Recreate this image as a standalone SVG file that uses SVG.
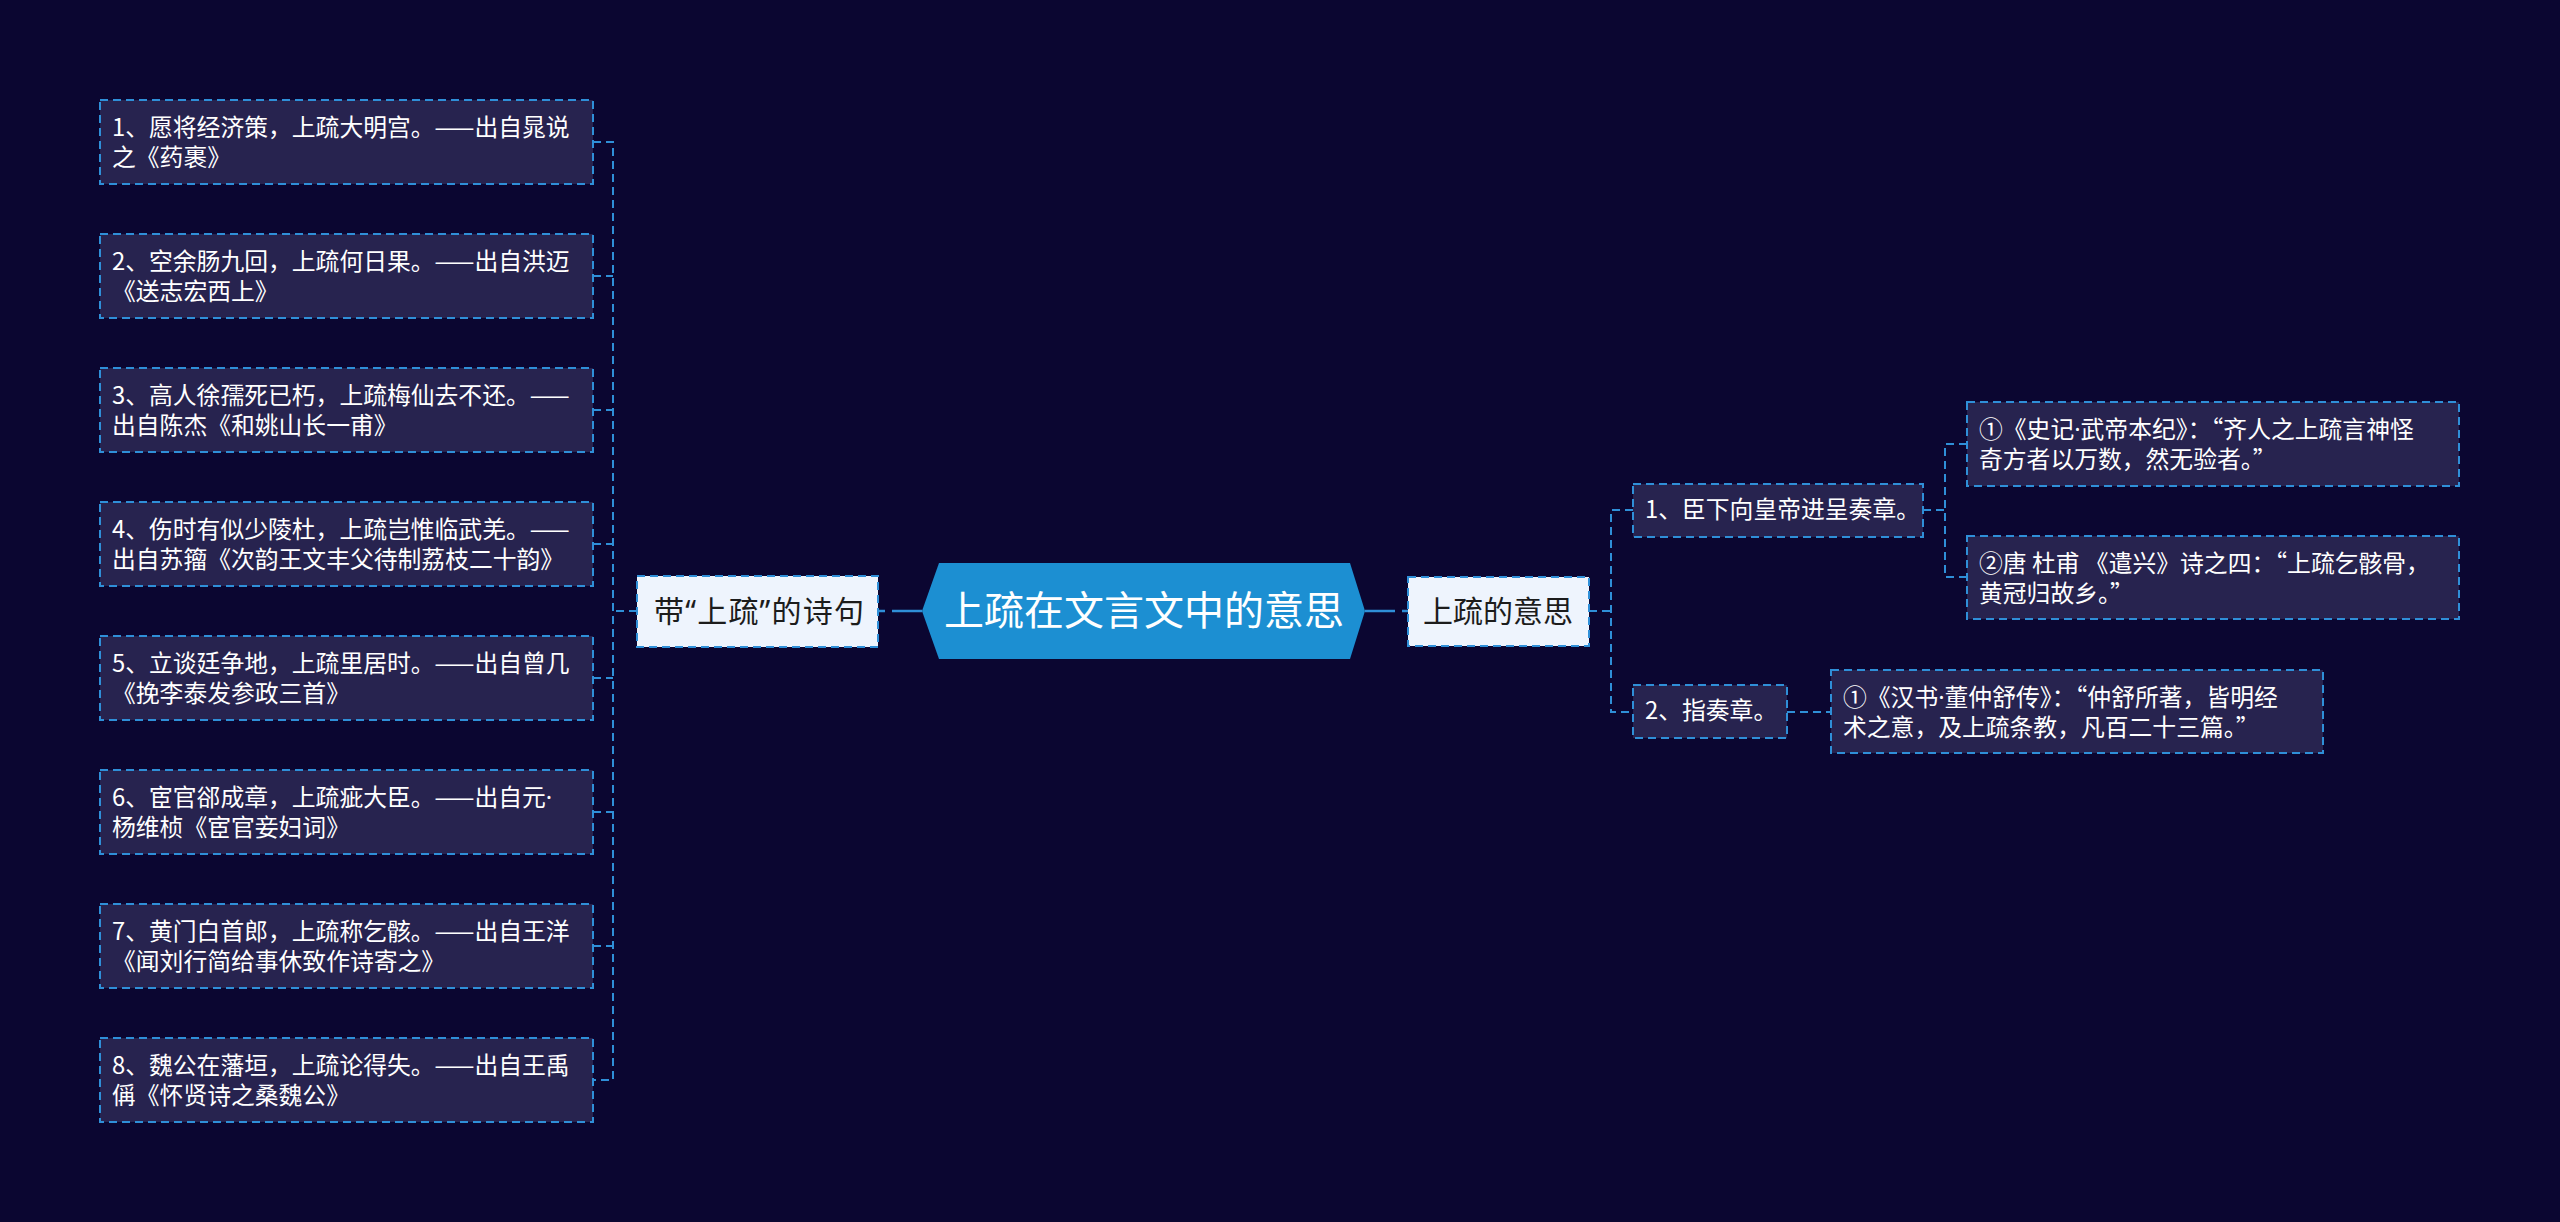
<svg xmlns="http://www.w3.org/2000/svg" width="2560" height="1222" viewBox="0 0 2560 1222">
<style>
.bg{fill:#0b0631}
.box{fill:#27234f;stroke:#2f8fd8;stroke-width:2;stroke-dasharray:8 5}
.lbox{fill:#eef4fd;stroke:#2f8fd8;stroke-width:2;stroke-dasharray:8 5}
.t{font-family:"Noto Sans CJK SC","Noto Sans",sans-serif;font-size:23.8px;fill:#ffffff}
.tl{font-family:"Noto Sans CJK SC","Noto Sans",sans-serif;font-size:30px;fill:#1c1c1c}
.tc{font-family:"Noto Sans CJK SC","Noto Sans",sans-serif;font-size:40px;fill:#ffffff}
.lat{font-family:"Noto Sans","Liberation Sans",sans-serif}
.c{fill:none;stroke:#2f8fd8;stroke-width:2;stroke-dasharray:8 5}
.cm{fill:none;stroke:#2f8fd8;stroke-width:2.5;stroke-dasharray:30 7}
</style>
<rect class="bg" x="0" y="0" width="2560" height="1222"/>
<g id="connectors">
<path class="cm" d="M922 611 H878"/>
<path class="cm" d="M1365 611 H1408"/>
<path class="c" d="M637 611 H613"/>
<path class="c" d="M593 142 H613 V1080 H593"/>
<path class="c" d="M593 276 H613"/>
<path class="c" d="M593 410 H613"/>
<path class="c" d="M593 544 H613"/>
<path class="c" d="M593 678 H613"/>
<path class="c" d="M593 812 H613"/>
<path class="c" d="M593 946 H613"/>
<path class="c" d="M1589 611 H1611"/>
<path class="c" d="M1633 510 H1611 V712 H1633"/>
<path class="c" d="M1923 510 H1945"/>
<path class="c" d="M1967 444 H1945 V577 H1967"/>
<path class="c" d="M1787 712 H1831"/>
</g>
<g id="center">
<polygon points="922,611 939,563 1350,563 1365,611 1350,659 939,659" fill="#1c8fd2"/>
<text class="tc" x="1144" y="625" text-anchor="middle">上疏在文言文中的意思</text>
</g>
<g id="left-main">
<rect class="lbox" x="637" y="576" width="241" height="71"/>
<text class="tl" x="654" y="622" textLength="210" lengthAdjust="spacing">带<tspan class="lat">“</tspan>上疏<tspan class="lat">”</tspan>的诗句</text>
</g>
<g id="right-main">
<rect class="lbox" x="1408" y="577" width="181" height="69"/>
<text class="tl" x="1498" y="622" text-anchor="middle">上疏的意思</text>
</g>
<g id="poem1"><rect class="box" x="100" y="100" width="493" height="84"/><text class="t" x="112" y="136">1、愿将经济策，上疏大明宫。——出自晁说</text><text class="t" x="112" y="166">之《药裹》</text></g>
<g id="poem2"><rect class="box" x="100" y="234" width="493" height="84"/><text class="t" x="112" y="270">2、空余肠九回，上疏何日果。——出自洪迈</text><text class="t" x="112" y="300">《送志宏西上》</text></g>
<g id="poem3"><rect class="box" x="100" y="368" width="493" height="84"/><text class="t" x="112" y="404">3、高人徐孺死已朽，上疏梅仙去不还。——</text><text class="t" x="112" y="434">出自陈杰《和姚山长一甫》</text></g>
<g id="poem4"><rect class="box" x="100" y="502" width="493" height="84"/><text class="t" x="112" y="538">4、伤时有似少陵杜，上疏岂惟临武羌。——</text><text class="t" x="112" y="568">出自苏籀《次韵王文丰父待制荔枝二十韵》</text></g>
<g id="poem5"><rect class="box" x="100" y="636" width="493" height="84"/><text class="t" x="112" y="672">5、立谈廷争地，上疏里居时。——出自曾几</text><text class="t" x="112" y="702">《挽李泰发参政三首》</text></g>
<g id="poem6"><rect class="box" x="100" y="770" width="493" height="84"/><text class="t" x="112" y="806">6、宦官郤成章，上疏疵大臣。——出自元<tspan class="lat">·</tspan></text><text class="t" x="112" y="836">杨维桢《宦官妾妇词》</text></g>
<g id="poem7"><rect class="box" x="100" y="904" width="493" height="84"/><text class="t" x="112" y="940">7、黄门白首郎，上疏称乞骸。——出自王洋</text><text class="t" x="112" y="970">《闻刘行简给事休致作诗寄之》</text></g>
<g id="poem8"><rect class="box" x="100" y="1038" width="493" height="84"/><text class="t" x="112" y="1074">8、魏公在藩垣，上疏论得失。——出自王禹</text><text class="t" x="112" y="1104">偁《怀贤诗之桑魏公》</text></g>
<g id="meaning1"><rect class="box" x="1633" y="484" width="290" height="53"/><text class="t" x="1645" y="518">1、臣下向皇帝进呈奏章。</text></g>
<g id="meaning2"><rect class="box" x="1633" y="685" width="154" height="53"/><text class="t" x="1645" y="719">2、指奏章。</text></g>
<g id="leafA"><rect class="box" x="1967" y="402" width="492" height="84"/><text class="t" x="1979" y="438">①《史记<tspan class="lat">·</tspan>武帝本纪》：“齐人之上疏言神怪</text><text class="t" x="1979" y="468">奇方者以万数，然无验者。”</text></g>
<g id="leafB"><rect class="box" x="1967" y="536" width="492" height="83"/><text class="t" x="1979" y="572">②唐 杜甫 《遣兴》诗之四：“上疏乞骸骨，</text><text class="t" x="1979" y="602">黄冠归故乡。”</text></g>
<g id="leafC"><rect class="box" x="1831" y="670" width="492" height="83"/><text class="t" x="1843" y="706">①《汉书<tspan class="lat">·</tspan>董仲舒传》：“仲舒所著，皆明经</text><text class="t" x="1843" y="736">术之意，及上疏条教，凡百二十三篇。”</text></g>
</svg>
